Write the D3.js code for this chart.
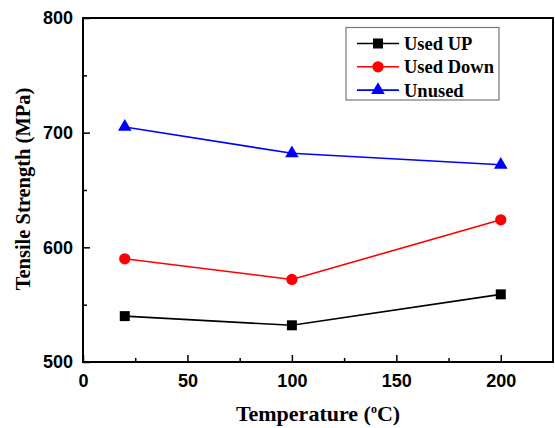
<!DOCTYPE html>
<html lang="en">

<head>
    <meta charset="UTF-8">
    <title>Tensile Strength</title>
    <script src="https://d3js.org/d3.v7.min.js"></script>
    <style>
        html,
        body {
            margin: 0;
            background: #fff;
        }

        .tick text {
            font-family: "Liberation Sans", Arial, sans-serif;
            font-weight: bold;
            font-size: 18px;
        }

        .title {
            font-family: "Liberation Serif", "Times New Roman", serif;
            font-weight: bold;
            font-size: 22px;
        }

        .legend text {
            font-family: "Liberation Serif", "Times New Roman", serif;
            font-weight: bold;
            font-size: 18.5px;
        }
    </style>
</head>

<body>
    <div id="chart"></div>
    <script>
        var temperatures = [20, 100, 200];
        var usedUp = [540, 532, 559];
        var usedDown = [590, 572, 624];
        var unused = [705, 682, 672];
        var xTicks = [0, 50, 100, 150, 200];
        var yTicks = [500, 600, 700, 800];

        var series = [
            { name: "Used UP", values: usedUp, colour: "#000000", symbol: d3.symbolSquare, size: 100 },
            { name: "Used Down", values: usedDown, colour: "#ff0000", symbol: d3.symbolCircle, size: 100 },
            { name: "Unused", values: unused, colour: "#0000ff", symbol: d3.symbolTriangle, size: 80 }
        ];

        var width = 555;
        var height = 428;
        var margin = { top: 18, bottom: 66, left: 83, right: 2 };
        var innerW = width - margin.left - margin.right;
        var innerH = height - margin.top - margin.bottom;

        var svg = d3.select('#chart')
            .append('svg')
            .attr('width', width)
            .attr('height', height);

        var g = svg.append('g')
            .attr('transform', 'translate(' + margin.left + ',' + margin.top + ')');

        var x = d3.scaleLinear().domain([0, 225]).range([0, innerW]);
        var y = d3.scaleLinear().domain([500, 800]).range([innerH, 0]);

        // minor ticks (inside)
        var minorX = d3.axisBottom(x).tickValues([25, 75, 125, 175]).tickSize(-4).tickFormat('');
        var minorY = d3.axisLeft(y).tickValues([550, 650, 750]).tickSize(-4).tickFormat('');

        g.append('g').attr('transform', 'translate(0,' + innerH + ')').call(minorX);
        g.append('g').call(minorY);

        g.append('g')
            .attr('transform', 'translate(0,' + innerH + ')')
            .call(d3.axisBottom(x).tickValues(xTicks).tickSize(-7).tickPadding(12));
        g.append('g')
            .call(d3.axisLeft(y).tickValues(yTicks).tickSize(-7).tickPadding(10));

        g.selectAll('.domain').remove();
        g.selectAll('.tick line').attr('stroke', '#000').attr('stroke-width', 1.5);
        g.selectAll('.tick text').attr('fill', '#000');

        // frame
        g.append('rect')
            .attr('width', innerW)
            .attr('height', innerH)
            .attr('fill', 'none')
            .attr('stroke', '#000')
            .attr('stroke-width', 2);

        var line = d3.line()
            .x(function (d, i) { return x(temperatures[i]); })
            .y(function (d) { return y(d); });

        series.forEach(function (s) {
            g.append('path')
                .datum(s.values)
                .attr('d', line)
                .attr('fill', 'none')
                .attr('stroke', s.colour)
                .attr('stroke-width', 1.6);

            g.selectAll(null)
                .data(s.values)
                .enter().append('path')
                .attr('d', d3.symbol().type(s.symbol).size(s.size))
                .attr('transform', function (d, i) {
                    return 'translate(' + x(temperatures[i]) + ',' + y(d) + ')';
                })
                .attr('fill', s.colour);
        });

        // legend
        var legend = svg.append('g').attr('class', 'legend');
        legend.append('rect')
            .attr('x', 346)
            .attr('y', 27.5)
            .attr('width', 153)
            .attr('height', 72.5)
            .attr('fill', '#fff')
            .attr('stroke', '#777')
            .attr('stroke-width', 1.2);

        series.forEach(function (s, i) {
            var ly = 43.5 + i * 23.3;
            legend.append('line')
                .attr('x1', 357).attr('x2', 399)
                .attr('y1', ly).attr('y2', ly)
                .attr('stroke', s.colour)
                .attr('stroke-width', 1.6);
            legend.append('path')
                .attr('d', d3.symbol().type(s.symbol).size(s.size))
                .attr('transform', 'translate(378,' + ly + ')')
                .attr('fill', s.colour);
            legend.append('text')
                .attr('x', 404)
                .attr('y', ly + 6.5)
                .text(s.name);
        });

        // axis titles
        var xt = svg.append('text')
            .attr('class', 'title')
            .attr('x', 318)
            .attr('y', 421)
            .attr('text-anchor', 'middle');
        xt.append('tspan').text('Temperature (');
        xt.append('tspan').attr('dy', -8).attr('font-size', 12).text('o');
        xt.append('tspan').attr('dy', 8).text('C)');

        svg.append('text')
            .attr('class', 'title')
            .attr('font-size', 20.5)
            .style('font-size', '20.5px')
            .attr('transform', 'translate(30,189) rotate(-90)')
            .attr('text-anchor', 'middle')
            .text('Tensile Strength (MPa)');
    </script>
</body>

</html>
